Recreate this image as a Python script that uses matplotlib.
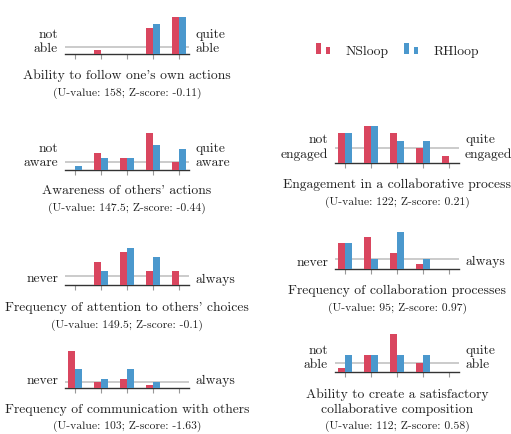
import matplotlib
matplotlib.use("Agg")
import matplotlib.pyplot as plt
from matplotlib.patches import Rectangle
from matplotlib.legend_handler import HandlerBase
import numpy as np

# ---------------- data ----------------
categories = [1, 2, 3, 4, 5]
series_names = ["NSloop", "RHloop"]

titles = [
    "Ability to follow one's own actions",
    "Awareness of others' actions",
    "Frequency of attention to others' choices",
    "Frequency of communication with others",
    "Engagement in a collaborative process",
    "Frequency of collaboration processes",
    "Ability to create a satisfactory\ncollaborative composition",
]
subtitles = [
    "(U-value: 158; Z-score: -0.11)",
    "(U-value: 147.5; Z-score: -0.44)",
    "(U-value: 149.5; Z-score: -0.1)",
    "(U-value: 103; Z-score: -1.63)",
    "(U-value: 122; Z-score: 0.21)",
    "(U-value: 95; Z-score: 0.97)",
    "(U-value: 112; Z-score: 0.58)",
]
low_labels = ["not\nable", "not\naware", "never", "never", "not\nengaged", "never", "not\nable"]
high_labels = ["quite\nable", "quite\naware", "always", "always", "quite\nengaged", "always", "quite\nable"]

nsloop = [
    [0, 1, 0, 7, 10],
    [0, 4, 3, 9, 2],
    [0, 5, 7, 3, 3],
    [12, 2, 3, 1, 0],
    [4, 5, 4, 2, 1],
    [5, 6, 3, 1, 0],
    [1, 4, 9, 2, 0],
]
rhloop = [
    [0, 0, 0, 8, 10],
    [1, 3, 3, 6, 5],
    [0, 3, 8, 6, 0],
    [6, 3, 6, 2, 0],
    [4, 5, 3, 3, 0],
    [5, 2, 7, 2, 0],
    [4, 4, 4, 4, 0],
]
ref_level = 2

# ---------------- style ----------------
RED = "#d9465f"
BLUE = "#4b98cd"
GRAY = "#bdbdbd"
TXT = "#222222"
FONT = "cmr10"
FS = 9.8
FS_SUB = 8.4

W, H = 511, 435
fig = plt.figure(figsize=(W / 100, H / 100), dpi=100)

def fx(px):
    return px / W

def fy(py):
    return 1 - py / H

# layout (pixels): axes left, axes baseline, (last-line) title baseline,
# subtitle baseline, (last-line) side label baseline
left_ax_x, right_ax_x, ax_w, ax_h = 65, 335, 124, 37.5
panels = [
    dict(x=left_ax_x, base=55, tb=79.5, sb=96, lb=52.3),
    dict(x=left_ax_x, base=171, tb=194.3, sb=211, lb=166.5),
    dict(x=left_ax_x, base=286.3, tb=311, sb=327.5, lb=282.5),
    dict(x=left_ax_x, base=389, tb=412.7, sb=429.2, lb=384),
    dict(x=right_ax_x, base=164, tb=188.3, sb=204.5, lb=157.7),
    dict(x=right_ax_x, base=270.3, tb=294, sb=311, lb=265.5),
    dict(x=right_ax_x, base=372.7, tb=412.7, sb=429.2, lb=368.3),
]

xpos = np.arange(len(categories))
bw = 0.26
bars_for_legend = None
for i, p in enumerate(panels):
    ax = fig.add_axes([fx(p["x"]), fy(p["base"]), fx(ax_w), ax_h / H])
    r = np.array(nsloop[i])
    b = np.array(rhloop[i])
    br = ax.bar(xpos - bw / 2, r, width=bw, color=RED, zorder=3, linewidth=0)
    bb = ax.bar(xpos + bw / 2, b, width=bw, color=BLUE, zorder=3, linewidth=0)
    if bars_for_legend is None:
        bars_for_legend = (br, bb)
    ax.axhline(ref_level, color=GRAY, lw=1.1, zorder=1)
    ax.set_xlim(-0.385, 4.385)
    ax.set_ylim(0, max(r.max(), b.max()))
    for s in ["left", "right", "top"]:
        ax.spines[s].set_visible(False)
    ax.spines["bottom"].set_color("#333333")
    ax.spines["bottom"].set_linewidth(1.0)
    ax.set_xticks(xpos)
    ax.set_xticklabels([])
    ax.set_yticks([])
    ax.tick_params(axis="x", length=3.5, width=0.8, color="#999999", direction="out")
    ax.patch.set_alpha(0)

    cx = p["x"] + ax_w / 2
    fig.text(fx(cx), fy(p["tb"]), titles[i], ha="center", va="baseline",
             fontsize=FS, family=FONT, color=TXT, linespacing=1.22)
    fig.text(fx(cx), fy(p["sb"]), subtitles[i], ha="center", va="baseline",
             fontsize=FS_SUB, family=FONT, color=TXT)
    fig.text(fx(p["x"] - 7), fy(p["lb"]), low_labels[i], ha="right", va="baseline",
             fontsize=FS, family=FONT, color=TXT, linespacing=1.22, multialignment="right")
    fig.text(fx(p["x"] + ax_w + 6), fy(p["lb"]), high_labels[i], ha="left", va="baseline",
             fontsize=FS, family=FONT, color=TXT, linespacing=1.22, multialignment="left")


class TwoBarHandler(HandlerBase):
    def create_artists(self, legend, orig_handle, xdescent, ydescent, width,
                       height, fontsize, trans):
        c = orig_handle.patches[0].get_facecolor()
        r1 = Rectangle((-xdescent, -ydescent), 3.6, 7.9, facecolor=c, lw=0, transform=trans)
        r2 = Rectangle((-xdescent + 6.8, -ydescent), 3.1, 5.5, facecolor=c, lw=0, transform=trans)
        return [r1, r2]


leg = fig.legend(list(bars_for_legend), series_names, ncol=2, frameon=False,
                 loc="center", bbox_to_anchor=(fx(397.5), fy(52)),
                 handler_map={type(bars_for_legend[0]): TwoBarHandler()},
                 handlelength=1.02, handletextpad=1.1, columnspacing=1.2,
                 prop={"family": FONT, "size": FS})
for t in leg.get_texts():
    t.set_color(TXT)

fig.savefig("out.png", dpi=100)
